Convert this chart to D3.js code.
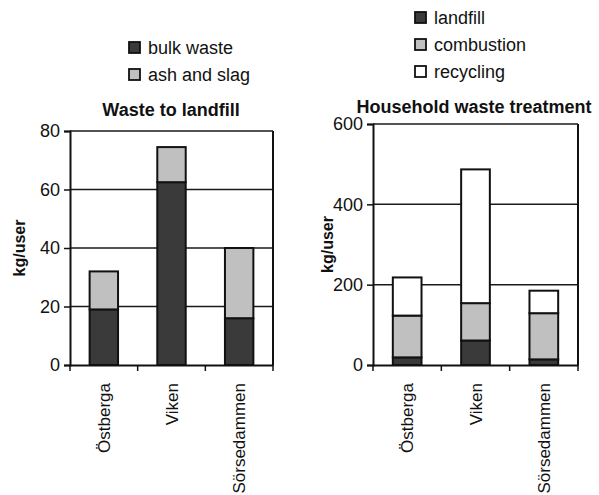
<!DOCTYPE html>
<html><head><meta charset="utf-8">
<script src="https://cdn.jsdelivr.net/npm/d3@7"></script>
<style>body{margin:0;background:#fff;} text{font-family:"Liberation Sans",Arial,sans-serif;fill:#111;}</style>
</head><body><svg id="c" width="599" height="495"></svg>
<script>
const categories = ["Östberga", "Viken", "Sörsedammen"];
// Waste to landfill (kg/user)
const bulkWaste = [19, 62.5, 16];
const ashAndSlag = [13, 12, 24];
const leftTicks = [0, 20, 40, 60, 80];
// Household waste treatment (kg/user)
const landfill = [19, 61, 14];
const combustion = [104, 93, 115];
const recycling = [95, 333, 56];
const rightTicks = [0, 200, 400, 600];

const svg = d3.select("#c");

function panel(cfg) {
  const {x0, x1, y0, y1, max, ticks, series, names, colors, title, titleX, titleY, legendX, legendY, ylabelX} = cfg;
  const g = svg.append("g");
  const x = d3.scaleBand().domain(categories).range([x0, x1]).paddingInner(0.58).paddingOuter(0.29);
  const y = d3.scaleLinear().domain([0, max]).range([y1, y0]);
  // gridlines
  g.selectAll(".grid").data(ticks.filter(t => t > 0)).join("line")
    .attr("x1", x0).attr("x2", x1).attr("y1", d => y(d)).attr("y2", d => y(d))
    .attr("stroke", "#1a1a1a").attr("stroke-width", 1.5);
  // stacked bars
  const rows = categories.map((c, i) => { const o = {cat: c}; names.forEach((n, k) => o[n] = series[k][i]); return o; });
  const stack = d3.stack().keys(names)(rows);
  stack.forEach((layer, k) => {
    g.selectAll(null).data(layer).join("rect")
      .attr("x", d => x(d.data.cat)).attr("width", x.bandwidth())
      .attr("y", d => y(d[1])).attr("height", d => y(d[0]) - y(d[1]))
      .attr("fill", colors[k]).attr("stroke", "#111").attr("stroke-width", 2);
  });
  // right border
  g.append("line").attr("x1", x1).attr("x2", x1).attr("y1", y0).attr("y2", y1).attr("stroke", "#111").attr("stroke-width", 2);
  // y axis
  const ya = g.append("g").attr("transform", `translate(${x0},0)`)
    .call(d3.axisLeft(y).tickValues(ticks).tickSize(6).tickPadding(4).tickFormat(d3.format("d")));
  ya.select(".domain").attr("stroke", "#111").attr("stroke-width", 2);
  ya.selectAll(".tick line").attr("stroke", "#111").attr("stroke-width", 1.5);
  ya.selectAll("text").attr("font-size", 18).attr("font-family", "Liberation Sans, Arial, sans-serif").attr("fill", "#222");
  // x axis
  const xa = g.append("g").attr("transform", `translate(0,${y1})`)
    .call(d3.axisBottom(x).tickSize(0).tickFormat(""));
  xa.select(".domain").attr("stroke", "#111").attr("stroke-width", 2);
  const step = x.step();
  g.selectAll(".xt").data(d3.range(categories.length + 1)).join("line")
    .attr("x1", i => x0 + i * step).attr("x2", i => x0 + i * step)
    .attr("y1", y1).attr("y2", y1 + 6).attr("stroke", "#111").attr("stroke-width", 1.5);
  g.selectAll(".xl").data(categories).join("text")
    .attr("transform", d => `translate(${x(d) + x.bandwidth() / 2},${y1 + 18}) rotate(-90)`)
    .attr("text-anchor", "end").attr("dy", "0.36em")
    .attr("font-size", 17).attr("fill", "#222").text(d => d);
  // y label
  g.append("text").attr("transform", `translate(${ylabelX},${(y0 + y1) / 2}) rotate(-90)`)
    .attr("text-anchor", "middle").attr("dy", "0.36em")
    .attr("font-size", 16).attr("font-weight", "bold").text("kg/user");
  // title
  g.append("text").attr("x", titleX).attr("y", titleY).attr("text-anchor", "middle")
    .attr("font-size", 18).attr("font-weight", "bold").text(title);
  // legend
  names.forEach((n, k) => {
    const ly = legendY + k * 27;
    g.append("rect").attr("x", legendX).attr("y", ly - 6).attr("width", 11).attr("height", 11)
      .attr("fill", colors[k]).attr("stroke", "#111").attr("stroke-width", 1.8);
    g.append("text").attr("x", legendX + 19).attr("y", ly).attr("dy", "0.36em")
      .attr("font-size", 18).attr("fill", "#222").text(n);
  });
}

panel({x0: 70, x1: 273, y0: 131, y1: 365, max: 80, ticks: leftTicks,
  series: [bulkWaste, ashAndSlag], names: ["bulk waste", "ash and slag"],
  colors: ["#3a3a3a", "#c0c0c0"], title: "Waste to landfill", titleX: 171, titleY: 116,
  legendX: 129, legendY: 48, ylabelX: 19});
panel({x0: 373, x1: 578, y0: 124, y1: 365, max: 600, ticks: rightTicks,
  series: [landfill, combustion, recycling], names: ["landfill", "combustion", "recycling"],
  colors: ["#3a3a3a", "#c0c0c0", "#ffffff"], title: "Household waste treatment", titleX: 474, titleY: 113,
  legendX: 415, legendY: 18, ylabelX: 327});
</script></body></html>
